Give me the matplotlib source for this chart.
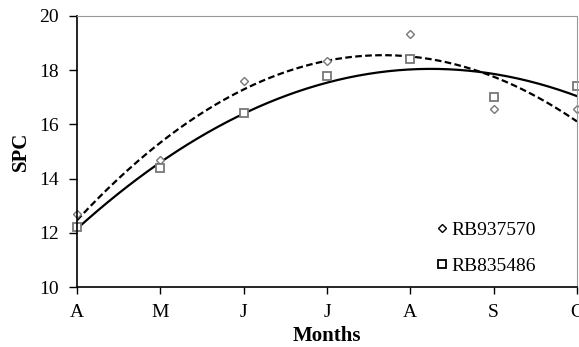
import numpy as np
import matplotlib
matplotlib.use("Agg")
import matplotlib.pyplot as plt

months = ["A", "M", "J", "J", "A", "S", "C"]
rb937570 = [12.7, 14.7, 17.6, 18.35, 19.33, 16.57, 16.55]
rb835486 = [12.2, 14.4, 16.42, 17.78, 18.4, 17.0, 17.42]

plt.rcParams['font.family'] = ['Liberation Serif', 'DejaVu Serif']

fig = plt.figure(figsize=(5.79, 3.47), dpi=100)
ax = fig.add_axes([77/579, 1-287/347, 500/579, 271/347])

x = np.arange(len(months))
xf = np.linspace(0, len(months)-1, 300)

c1 = np.polyfit(x, rb937570, 2)
c2 = np.polyfit(x, rb835486, 2)
ax.plot(xf, np.polyval(c1, xf), color='black', lw=1.6, ls=(0, (3.0, 1.5)))
ax.plot(xf, np.polyval(c2, xf), color='black', lw=1.6, ls='-')

ax.plot(x, rb937570, ls='none', marker='D', ms=4.2, mfc='white', mec='#777777', mew=1.0,
        label='RB937570', clip_on=False)
ax.plot(x, rb835486, ls='none', marker='s', ms=6, mfc='white', mec='#777777', mew=1.3,
        label='RB835486', clip_on=False)

ax.set_xlim(0, 6)
ax.set_ylim(10, 20)
ax.set_xticks(x)
ax.set_xticklabels(months, fontsize=14)
ax.set_yticks([10, 12, 14, 16, 18, 20])
ax.tick_params(axis='y', labelsize=14, direction='out', length=6, width=1, pad=7)
ax.tick_params(axis='x', direction='out', length=5, width=1, pad=7)
for s in ['left', 'bottom']:
    ax.spines[s].set_color('black')
    ax.spines[s].set_linewidth(1.2)
for s in ['top', 'right']:
    ax.spines[s].set_color('#999999')
    ax.spines[s].set_linewidth(0.8)

ax.set_ylabel('SPC', fontsize=15, fontweight='bold', labelpad=6)
ax.set_xlabel('Months', fontsize=15, fontweight='bold', labelpad=4)

leg = ax.legend(loc='upper left', frameon=False, fontsize=14, handlelength=0.6,
                handletextpad=0.2, labelspacing=0.96, borderpad=0, borderaxespad=0,
                bbox_to_anchor=(0.718, 0.243))
leg.legend_handles[0].set_markersize(3.6)
leg.legend_handles[1].set_markersize(5.5)
for h in leg.legend_handles:
    h.set_markeredgecolor('black')

fig.savefig('out.png', dpi=100)
